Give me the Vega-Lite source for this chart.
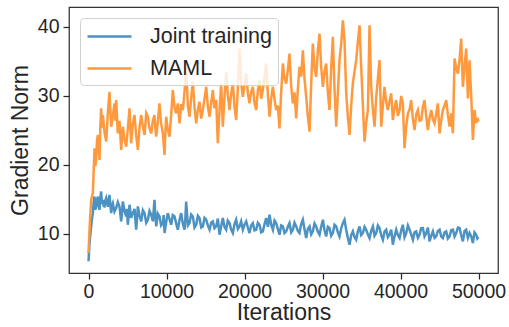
{
"$schema": "https://vega.github.io/schema/vega-lite/v6.json",
"width": 429, "height": 266,
"autosize": {"type": "none"},
"padding": {"left": 69, "top": 7, "right": 11, "bottom": 54},
"background": "white",
"config": {
  "font": "Liberation Sans",
  "view": {"stroke": "#333333", "strokeWidth": 1.25},
  "axis": {"grid": false, "domain": false, "tickColor": "#262626", "tickSize": 6, "tickWidth": 1.25, "labelColor": "#262626", "labelFontSize": 19.5, "titleColor": "#262626", "titleFontSize": 23, "titleFontWeight": "normal", "labelFont": "Liberation Sans", "titleFont": "Liberation Sans"}
},
"datasets": {
"joint": [
{"i":0,"g":6.00},{"i":130,"g":8.65},{"i":340,"g":11.06},{"i":450,"g":12.2},{"i":560,"g":12.99},{"i":660,"g":14.6},{"i":770,"g":15.40},{"i":880,"g":13.5},{"i":980,"g":13.96},{"i":1090,"g":14.9},{"i":1200,"g":15.40},{"i":1300,"g":14.1},{"i":1410,"g":13.47},{"i":1520,"g":15.2},{"i":1620,"g":16.13},{"i":1730,"g":14.3},{"i":1840,"g":14.92},{"i":1950,"g":14.0},{"i":2050,"g":13.96},{"i":2160,"g":14.8},{"i":2270,"g":15.16},{"i":2480,"g":13.9},{"i":2690,"g":15.64},{"i":2800,"g":14.2},{"i":2910,"g":12.99},{"i":3010,"g":14.1},{"i":3120,"g":14.44},{"i":3330,"g":13.2},{"i":3550,"g":13.71},{"i":3760,"g":14.6},{"i":3970,"g":13.96},{"i":4080,"g":12.9},{"i":4190,"g":11.78},{"i":4300,"g":13.1},{"i":4400,"g":14.68},{"i":4620,"g":13.3},{"i":4830,"g":12.51},{"i":4940,"g":13.6},{"i":5040,"g":11.30},{"i":5150,"g":12.6},{"i":5260,"g":14.20},{"i":5470,"g":12.3},{"i":5680,"g":12.99},{"i":5900,"g":13.6},{"i":6110,"g":10.58},{"i":6220,"g":12.1},{"i":6330,"g":13.96},{"i":6540,"g":12.6},{"i":6750,"g":11.78},{"i":6970,"g":13.4},{"i":7180,"g":12.99},{"i":7400,"g":11.6},{"i":7610,"g":12.03},{"i":7820,"g":13.3},{"i":8040,"g":12.75},{"i":8250,"g":11.8},{"i":8460,"g":14.92},{"i":8570,"g":12.6},{"i":8680,"g":11.06},{"i":8890,"g":12.9},{"i":9100,"g":12.51},{"i":9310,"g":11.2},{"i":9530,"g":11.54},{"i":9640,"g":12.7},{"i":9750,"g":10.10},{"i":9960,"g":11.7},{"i":10170,"g":12.99},{"i":10390,"g":12.1},{"i":10600,"g":11.30},{"i":10810,"g":12.7},{"i":11030,"g":12.51},{"i":11240,"g":11.5},{"i":11450,"g":10.58},{"i":11670,"g":12.0},{"i":11880,"g":12.99},{"i":12100,"g":11.4},{"i":12310,"g":10.58},{"i":12420,"g":12.3},{"i":12520,"g":14.68},{"i":12740,"g":11.2},{"i":12950,"g":11.54},{"i":13160,"g":12.8},{"i":13380,"g":12.51},{"i":13590,"g":10.9},{"i":13810,"g":11.30},{"i":14020,"g":12.6},{"i":14230,"g":12.27},{"i":14450,"g":10.9},{"i":14660,"g":11.06},{"i":14870,"g":12.3},{"i":15090,"g":12.03},{"i":15300,"g":11.2},{"i":15520,"g":10.58},{"i":15730,"g":11.6},{"i":15940,"g":11.78},{"i":16150,"g":10.8},{"i":16370,"g":11.06},{"i":16580,"g":12.2},{"i":16800,"g":9.86},{"i":17010,"g":11.1},{"i":17220,"g":12.27},{"i":17430,"g":11.0},{"i":17650,"g":10.58},{"i":17860,"g":11.9},{"i":18080,"g":11.54},{"i":18290,"g":10.6},{"i":18510,"g":10.10},{"i":18720,"g":11.4},{"i":18930,"g":12.03},{"i":19150,"g":10.7},{"i":19360,"g":11.06},{"i":19570,"g":11.8},{"i":19790,"g":10.58},{"i":20000,"g":11.3},{"i":20220,"g":11.78},{"i":20430,"g":10.9},{"i":20640,"g":10.10},{"i":20850,"g":11.2},{"i":21070,"g":11.54},{"i":21280,"g":10.5},{"i":21500,"g":10.58},{"i":21710,"g":11.6},{"i":21930,"g":11.30},{"i":22140,"g":10.2},{"i":22350,"g":10.34},{"i":22570,"g":11.4},{"i":22780,"g":12.27},{"i":23000,"g":11.0},{"i":23210,"g":12.75},{"i":23420,"g":11.3},{"i":23640,"g":10.58},{"i":23850,"g":11.9},{"i":24060,"g":11.54},{"i":24270,"g":10.7},{"i":24490,"g":9.86},{"i":24700,"g":11.2},{"i":24920,"g":11.06},{"i":25130,"g":10.1},{"i":25350,"g":10.34},{"i":25560,"g":11.0},{"i":25770,"g":11.54},{"i":25990,"g":10.2},{"i":26200,"g":10.58},{"i":26410,"g":11.6},{"i":26630,"g":11.06},{"i":26840,"g":10.4},{"i":27050,"g":10.10},{"i":27270,"g":11.4},{"i":27480,"g":12.03},{"i":27700,"g":10.6},{"i":27910,"g":9.37},{"i":28120,"g":10.7},{"i":28340,"g":11.06},{"i":28550,"g":9.9},{"i":28760,"g":10.34},{"i":28980,"g":11.5},{"i":29190,"g":11.06},{"i":29400,"g":10.3},{"i":29620,"g":9.86},{"i":29830,"g":11.0},{"i":30050,"g":12.03},{"i":30260,"g":10.5},{"i":30470,"g":9.61},{"i":30690,"g":11.0},{"i":30900,"g":10.82},{"i":31110,"g":9.7},{"i":31330,"g":10.10},{"i":31540,"g":11.3},{"i":31760,"g":11.06},{"i":31970,"g":10.2},{"i":32180,"g":9.61},{"i":32400,"g":10.8},{"i":32610,"g":11.54},{"i":32820,"g":12.03},{"i":33040,"g":10.58},{"i":33250,"g":9.4},{"i":33470,"g":8.41},{"i":33680,"g":9.8},{"i":33890,"g":10.34},{"i":34110,"g":9.5},{"i":34320,"g":9.13},{"i":34530,"g":10.3},{"i":34750,"g":11.06},{"i":34960,"g":9.8},{"i":35180,"g":10.10},{"i":35390,"g":11.0},{"i":35600,"g":10.58},{"i":35820,"g":9.9},{"i":36030,"g":9.37},{"i":36240,"g":10.4},{"i":36460,"g":11.06},{"i":36670,"g":9.7},{"i":36890,"g":10.10},{"i":37100,"g":11.2},{"i":37310,"g":10.82},{"i":37520,"g":9.8},{"i":37740,"g":9.13},{"i":37950,"g":10.3},{"i":38170,"g":10.58},{"i":38380,"g":9.5},{"i":38590,"g":9.86},{"i":38810,"g":10.6},{"i":39020,"g":8.41},{"i":39230,"g":9.6},{"i":39450,"g":10.58},{"i":39660,"g":9.8},{"i":39880,"g":9.37},{"i":40090,"g":10.5},{"i":40300,"g":11.30},{"i":40520,"g":9.5},{"i":40730,"g":10.10},{"i":40950,"g":11.2},{"i":41160,"g":10.58},{"i":41370,"g":9.9},{"i":41590,"g":9.13},{"i":41800,"g":10.2},{"i":42010,"g":10.34},{"i":42230,"g":9.4},{"i":42440,"g":9.86},{"i":42650,"g":10.8},{"i":42870,"g":10.82},{"i":43080,"g":9.6},{"i":43300,"g":10.10},{"i":43510,"g":10.9},{"i":43720,"g":8.89},{"i":43940,"g":9.7},{"i":44150,"g":10.34},{"i":44370,"g":9.4},{"i":44580,"g":9.61},{"i":44790,"g":10.4},{"i":45010,"g":10.58},{"i":45220,"g":9.6},{"i":45430,"g":9.37},{"i":45650,"g":10.2},{"i":45860,"g":10.34},{"i":46070,"g":9.3},{"i":46290,"g":9.61},{"i":46500,"g":10.5},{"i":46720,"g":10.58},{"i":46930,"g":9.6},{"i":47140,"g":10.10},{"i":47360,"g":10.9},{"i":47570,"g":10.82},{"i":47780,"g":9.8},{"i":48000,"g":8.89},{"i":48210,"g":10.4},{"i":48420,"g":10.58},{"i":48640,"g":9.4},{"i":48850,"g":10.10},{"i":49070,"g":9.6},{"i":49280,"g":8.65},{"i":49490,"g":10.2},{"i":49710,"g":9.86},{"i":49850,"g":9.3},{"i":50000,"g":9.52}
],
"maml": [
{"i":0,"g":7.20},{"i":170,"g":11.5},{"i":340,"g":14.92},{"i":560,"g":15.89},{"i":770,"g":22.40},{"i":880,"g":19.8},{"i":980,"g":20.71},{"i":1090,"g":23.5},{"i":1200,"g":24.33},{"i":1300,"g":22.9},{"i":1410,"g":20.71},{"i":1520,"g":25.6},{"i":1620,"g":28.19},{"i":1730,"g":25.4},{"i":1840,"g":27.22},{"i":2050,"g":24.8},{"i":2270,"g":23.36},{"i":2480,"g":27.5},{"i":2690,"g":30.60},{"i":2800,"g":27.8},{"i":2910,"g":25.53},{"i":3120,"g":27.1},{"i":3330,"g":28.91},{"i":3440,"g":26.4},{"i":3550,"g":29.39},{"i":3650,"g":27.0},{"i":3760,"g":24.57},{"i":3970,"g":26.4},{"i":4190,"g":22.16},{"i":4300,"g":24.0},{"i":4400,"g":25.53},{"i":4620,"g":23.6},{"i":4830,"g":22.64},{"i":5040,"g":25.2},{"i":5260,"g":28.19},{"i":5360,"g":25.5},{"i":5470,"g":23.12},{"i":5680,"g":25.9},{"i":5900,"g":27.22},{"i":6110,"g":24.3},{"i":6330,"g":22.16},{"i":6540,"g":25.4},{"i":6750,"g":27.22},{"i":6970,"g":25.6},{"i":7180,"g":24.33},{"i":7400,"g":27.5},{"i":7610,"g":26.98},{"i":7820,"g":25.3},{"i":8040,"g":24.57},{"i":8250,"g":26.4},{"i":8460,"g":27.22},{"i":8570,"g":25.3},{"i":8680,"g":24.09},{"i":8890,"g":26.3},{"i":9100,"g":28.91},{"i":9310,"g":26.0},{"i":9530,"g":24.57},{"i":9640,"g":23.0},{"i":9750,"g":21.43},{"i":9850,"g":24.6},{"i":9960,"g":26.98},{"i":10170,"g":25.1},{"i":10390,"g":24.09},{"i":10600,"g":27.3},{"i":10810,"g":30.84},{"i":11030,"g":28.3},{"i":11240,"g":27.46},{"i":11450,"g":28.9},{"i":11670,"g":26.02},{"i":11880,"g":28.8},{"i":12100,"g":27.95},{"i":12310,"g":30.6},{"i":12520,"g":34.22},{"i":12740,"g":28.5},{"i":12950,"g":26.98},{"i":13160,"g":29.7},{"i":13380,"g":32.05},{"i":13590,"g":28.4},{"i":13810,"g":26.02},{"i":14020,"g":28.0},{"i":14230,"g":29.15},{"i":14450,"g":26.7},{"i":14660,"g":27.95},{"i":14870,"g":29.6},{"i":15090,"g":31.32},{"i":15300,"g":28.5},{"i":15520,"g":26.98},{"i":15730,"g":29.0},{"i":15940,"g":30.84},{"i":16150,"g":28.2},{"i":16370,"g":29.39},{"i":16580,"g":23.12},{"i":16800,"g":28.0},{"i":17010,"g":31.80},{"i":17220,"g":25.53},{"i":17430,"g":29.8},{"i":17650,"g":33.49},{"i":17860,"g":30.1},{"i":18080,"g":27.95},{"i":18290,"g":30.3},{"i":18510,"g":31.80},{"i":18720,"g":28.4},{"i":18930,"g":26.50},{"i":19150,"g":31.2},{"i":19360,"g":36.87},{"i":19570,"g":32.0},{"i":19790,"g":29.87},{"i":20000,"g":31.5},{"i":20220,"g":33.25},{"i":20430,"g":30.4},{"i":20640,"g":28.91},{"i":20850,"g":30.5},{"i":21070,"g":31.32},{"i":21280,"g":29.0},{"i":21500,"g":27.95},{"i":21710,"g":30.8},{"i":21930,"g":32.29},{"i":22140,"g":29.6},{"i":22350,"g":30.84},{"i":22570,"g":32.8},{"i":22780,"g":34.70},{"i":23000,"g":30.2},{"i":23210,"g":26.98},{"i":23420,"g":29.6},{"i":23640,"g":31.32},{"i":23850,"g":29.5},{"i":24060,"g":27.95},{"i":24270,"g":28.6},{"i":24490,"g":25.29},{"i":24700,"g":30.5},{"i":24920,"g":34.70},{"i":25130,"g":32.5},{"i":25350,"g":31.80},{"i":25560,"g":33.8},{"i":25770,"g":36.15},{"i":25990,"g":31.4},{"i":26200,"g":28.91},{"i":26410,"g":30.5},{"i":26630,"g":26.74},{"i":26840,"g":31.0},{"i":27050,"g":34.22},{"i":27270,"g":32.8},{"i":27480,"g":36.63},{"i":27700,"g":32.4},{"i":27910,"g":29.87},{"i":28120,"g":27.1},{"i":28340,"g":24.81},{"i":28550,"g":31.8},{"i":28760,"g":37.59},{"i":28980,"g":34.0},{"i":29190,"g":32.77},{"i":29400,"g":36.5},{"i":29620,"g":39.04},{"i":29830,"g":34.2},{"i":30050,"g":31.32},{"i":30260,"g":33.6},{"i":30470,"g":34.70},{"i":30690,"g":30.5},{"i":30900,"g":27.95},{"i":31110,"g":33.9},{"i":31330,"g":38.56},{"i":31540,"g":31.0},{"i":31760,"g":25.53},{"i":31970,"g":30.4},{"i":32180,"g":35.18},{"i":32400,"g":37.6},{"i":32610,"g":40.97},{"i":32820,"g":38.08},{"i":33040,"g":30.36},{"i":33250,"g":27.0},{"i":33470,"g":24.33},{"i":33680,"g":28.6},{"i":33890,"g":31.80},{"i":34110,"g":33.6},{"i":34320,"g":35.18},{"i":34530,"g":37.8},{"i":34750,"g":40.25},{"i":34960,"g":34.22},{"i":35180,"g":28.5},{"i":35390,"g":23.36},{"i":35600,"g":26.1},{"i":35820,"g":27.95},{"i":36030,"g":40.25},{"i":36240,"g":31.32},{"i":36460,"g":28.0},{"i":36670,"g":25.53},{"i":36890,"g":29.87},{"i":37100,"g":32.5},{"i":37310,"g":35.18},{"i":37530,"g":25.53},{"i":37740,"g":28.6},{"i":37950,"g":31.32},{"i":38170,"g":29.1},{"i":38380,"g":27.95},{"i":38590,"g":29.2},{"i":38810,"g":30.36},{"i":39020,"g":26.50},{"i":39230,"g":28.2},{"i":39450,"g":29.39},{"i":39660,"g":27.1},{"i":39880,"g":27.95},{"i":40090,"g":30.0},{"i":40300,"g":28.91},{"i":40520,"g":22.40},{"i":40730,"g":25.6},{"i":40950,"g":27.46},{"i":41160,"g":28.0},{"i":41370,"g":29.39},{"i":41590,"g":26.6},{"i":41800,"g":25.05},{"i":42010,"g":27.3},{"i":42230,"g":27.95},{"i":42440,"g":26.4},{"i":42660,"g":26.50},{"i":42870,"g":28.4},{"i":43080,"g":29.39},{"i":43300,"g":27.0},{"i":43510,"g":25.05},{"i":43720,"g":26.8},{"i":43940,"g":27.95},{"i":44150,"g":26.6},{"i":44360,"g":26.02},{"i":44580,"g":27.4},{"i":44790,"g":28.91},{"i":45010,"g":24.57},{"i":45220,"g":26.4},{"i":45430,"g":27.95},{"i":45650,"g":28.6},{"i":45860,"g":29.39},{"i":46070,"g":27.3},{"i":46290,"g":25.53},{"i":46500,"g":27.46},{"i":46720,"g":24.57},{"i":46930,"g":35.42},{"i":47150,"g":34.0},{"i":47360,"g":33.25},{"i":47570,"g":35.2},{"i":47780,"g":38.32},{"i":48000,"g":31.32},{"i":48210,"g":34.22},{"i":48420,"g":36.87},{"i":48640,"g":29.63},{"i":48850,"g":35.18},{"i":49070,"g":29.87},{"i":49280,"g":23.60},{"i":49490,"g":27.95},{"i":49710,"g":26.02},{"i":49850,"g":26.8},{"i":50000,"g":26.26}
]
},
"layer": [
 {
  "data": {"name": "joint"},
  "mark": {"type": "line", "strokeWidth": 2.5, "clip": true},
  "encoding": {
    "x": {"field": "i", "type": "quantitative", "scale": {"domain": [-2500, 52500], "nice": false, "zero": false}, "axis": {"values": [0, 10000, 20000, 30000, 40000, 50000], "format": "d", "title": "Iterations", "labelPadding": 3, "titlePadding": 1}},
    "y": {"field": "g", "type": "quantitative", "scale": {"domain": [4.3, 42.9], "nice": false, "zero": false}, "axis": {"values": [10, 20, 30, 40], "title": "Gradient Norm", "labelPadding": 4, "titlePadding": 5}},
    "color": {"datum": "Joint training", "type": "nominal", "scale": {"domain": ["Joint training", "MAML"], "range": ["#4c92c3", "#ff993e"]},
      "legend": {"title": null, "orient": "none", "legendX": 11, "legendY": 11, "symbolType": "M-1,0H3", "symbolSize": 484, "symbolStrokeWidth": 2.5, "labelFontSize": 21.5, "labelColor": "#262626", "labelOffset": 39, "padding": 6, "rowPadding": 9, "strokeColor": "#d0d0d0", "fillColor": "rgba(255,255,255,0.8)", "cornerRadius": 4}}
  }
 },
 {
  "data": {"name": "maml"},
  "mark": {"type": "line", "strokeWidth": 2.5, "clip": true},
  "encoding": {
    "x": {"field": "i", "type": "quantitative"},
    "y": {"field": "g", "type": "quantitative"},
    "color": {"datum": "MAML", "type": "nominal"}
  }
 }
]
}
